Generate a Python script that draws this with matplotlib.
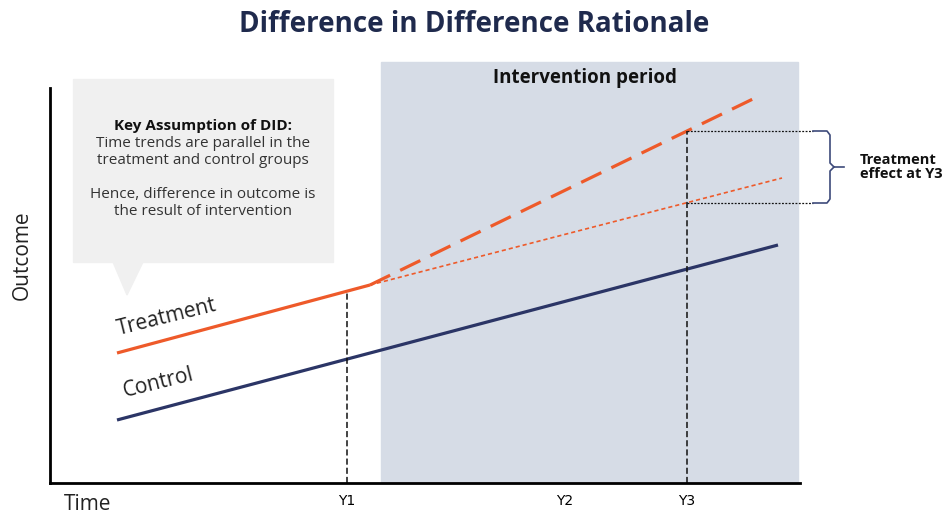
'''difference in difference rationale sketch
'''
import matplotlib
matplotlib.use('Agg')
import matplotlib.pyplot as plt
from matplotlib.patches import Rectangle, Polygon

plt.rcParams['font.family'] = ['Open Sans', 'DejaVu Sans']

# data (arbitrary time / outcome units)
treat_pre_x = [67, 320]
treat_pre_y = [130, 198]
treat_post_x = [320, 707]
treat_post_y = [198, 386]
counter_x = [320, 732]
counter_y = [198, 305]
control_x = [67, 728]
control_y = [63, 238]
y1_x, y1_y = 297, 191
y3_x, y3_treat, y3_counter = 637, 352, 280
tick_pos = [297, 515, 637]
tick_labels = ['Y1', 'Y2', 'Y3']
interv_start, interv_end = 331, 748

orange = '#ee5a2a'
navy = '#2b3566'

W, H = 948, 516
fig = plt.figure(figsize=(W / 100, H / 100), dpi=100)
# axes in pixel units: x 50..800, y 55..483
ax = fig.add_axes([50 / W, 1 - 483 / H, 750 / W, 428 / H])
ax.set_xlim(0, 750)
ax.set_ylim(0, 428)
ax.patch.set_alpha(0)
for s in ['top', 'right']:
    ax.spines[s].set_visible(False)
ax.spines['left'].set_bounds(0, 395)
ax.spines['left'].set_linewidth(2)
ax.spines['bottom'].set_linewidth(2)
ax.set_yticks([])
ax.set_xticks(tick_pos)
ax.set_xticklabels(tick_labels, fontsize=10, family='Liberation Sans Narrow')
ax.tick_params(axis='x', length=0, pad=8)

# intervention shading
ax.add_patch(Rectangle((interv_start, 0), interv_end - interv_start, 421,
                       color='#d6dce6', zorder=0, clip_on=False))
ax.text(535, 405, 'Intervention period', ha='center', va='center',
        fontsize=13.5, fontweight='bold', color='#111111')

# lines
ax.plot(control_x, control_y, color=navy, linewidth=2.3, solid_capstyle='butt')
ax.plot(treat_pre_x, treat_pre_y, color=orange, linewidth=2.3, solid_capstyle='butt')
ax.plot(treat_post_x, treat_post_y, color=orange, linewidth=2.3, dashes=(7, 3.5))
ax.plot(counter_x, counter_y, color=orange, linewidth=1.2, dashes=(2.5, 1.8))

# guide lines
ax.plot([y1_x, y1_x], [0, y1_y], color='#111111', linewidth=1.1, dashes=(4, 2))
ax.plot([y3_x, y3_x], [0, y3_treat], color='#111111', linewidth=1.1, dashes=(4, 2))
for yy in [y3_treat, y3_counter]:
    ax.plot([y3_x, 763], [yy, yy], color='#111111', linewidth=0.9, dashes=(1.5, 1.2), clip_on=False)

# curly bracket
bx = 780
top, bot = y3_treat, y3_counter
mid = (top + bot) / 2
ax.plot([763, bx - 3, bx, bx, bx + 4, bx + 14], [top, top, top - 4, mid + 4, mid, mid],
        color='#3d4a7a', linewidth=1.2, clip_on=False)
ax.plot([763, bx - 3, bx, bx, bx + 4], [bot, bot, bot + 4, mid - 4, mid],
        color='#3d4a7a', linewidth=1.2, clip_on=False)
ax.text(810, mid, 'Treatment\neffect at Y3', ha='left', va='center', fontsize=10.5,
        fontweight='bold', color='#111111', linespacing=1.05)

# group labels
ax.text(117, 166, 'Treatment', fontsize=15, rotation=14, ha='center', va='center', color='#222222')
ax.text(108, 100, 'Control', fontsize=15, rotation=14, ha='center', va='center', color='#222222')

# callout box
ax.add_patch(Rectangle((23, 221), 260, 183, color='#f0f0f0', zorder=1, clip_on=False))
ax.add_patch(Polygon([(63, 221), (93, 221), (77, 188)], closed=True, color='#f0f0f0',
                     zorder=1, clip_on=False))
ax.text(153, 357, 'Key Assumption of DID:', ha='center', va='center', fontsize=11,
        fontweight='bold', color='#111111', zorder=2)
ax.text(153, 347, 'Time trends are parallel in the\ntreatment and control groups\n\n'
        'Hence, difference in outcome is\nthe result of intervention',
        ha='center', va='top', fontsize=11, color='#333333', linespacing=1.18, zorder=2)

# axis labels
fig.text(22 / W, 1 - 255 / H, 'Outcome', rotation=90, ha='center', va='center', fontsize=15, color='#222222')
fig.text(88 / W, 1 - 505 / H, 'Time', ha='center', va='center', fontsize=15, color='#222222')
fig.text(474 / W, 1 - 25 / H, 'Difference in Difference Rationale', ha='center', va='center',
         fontsize=20, fontweight='bold', color='#1f2a4d')

plt.savefig('out.png', dpi=100)
